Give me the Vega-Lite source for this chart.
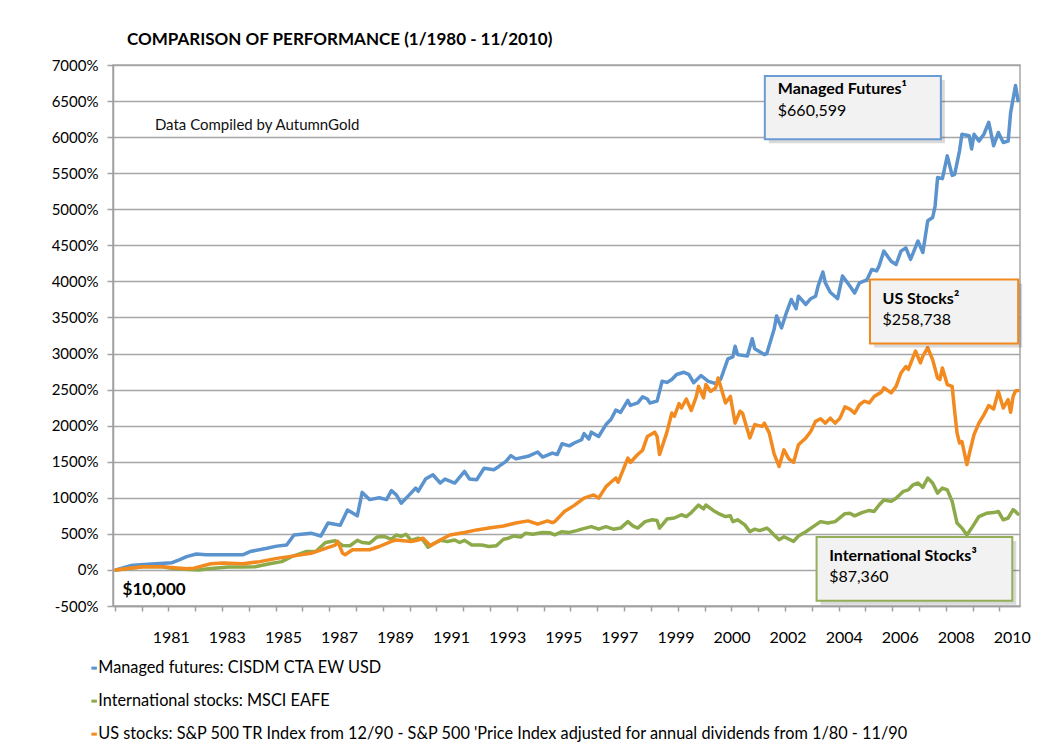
{
  "$schema": "https://vega.github.io/schema/vega-lite/v6.json",
  "autosize": {"type": "none"},
  "width": 907,
  "height": 541,
  "padding": {"left": 113, "top": 65, "right": 19, "bottom": 147},
  "background": "white",
  "title": {"text": "COMPARISON OF PERFORMANCE (1/1980 - 11/2010)", "anchor": "start", "frame": "group", "dx": 14, "offset": 9, "font": "Lato", "fontSize": 17, "fontWeight": "bold", "color": "#000000"},
  "config": {
    "font": "Lato",
    "view": {"stroke": "#a6a6a6", "strokeWidth": 1.5},
    "axis": {"labelFont": "Lato", "labelColor": "#000000", "domainColor": "#a0a0a0", "tickColor": "#a0a0a0", "domainWidth": 1.5, "tickWidth": 1.5}
  },
  "datasets": {
    "mf": [
      {"date": "1980-01", "value": 0}, {"date": "1980-07", "value": 60}, {"date": "1981-02", "value": 80}, {"date": "1981-07", "value": 90},
      {"date": "1981-12", "value": 100}, {"date": "1982-03", "value": 140}, {"date": "1982-06", "value": 185}, {"date": "1982-10", "value": 220},
      {"date": "1983-02", "value": 210}, {"date": "1983-09", "value": 210}, {"date": "1984-05", "value": 210}, {"date": "1984-08", "value": 255},
      {"date": "1985-03", "value": 300}, {"date": "1985-07", "value": 330}, {"date": "1985-11", "value": 345}, {"date": "1986-02", "value": 485},
      {"date": "1986-09", "value": 510}, {"date": "1987-01", "value": 470}, {"date": "1987-04", "value": 650}, {"date": "1987-09", "value": 620},
      {"date": "1987-12", "value": 830}, {"date": "1988-04", "value": 750}, {"date": "1988-06", "value": 1075}, {"date": "1988-09", "value": 975},
      {"date": "1989-01", "value": 1000}, {"date": "1989-04", "value": 975}, {"date": "1989-06", "value": 1100}, {"date": "1989-08", "value": 1040},
      {"date": "1989-10", "value": 925}, {"date": "1990-01", "value": 1030}, {"date": "1990-04", "value": 1135}, {"date": "1990-05", "value": 1090},
      {"date": "1990-08", "value": 1260}, {"date": "1990-11", "value": 1320}, {"date": "1991-02", "value": 1205}, {"date": "1991-04", "value": 1260},
      {"date": "1991-08", "value": 1205}, {"date": "1991-12", "value": 1365}, {"date": "1992-02", "value": 1260}, {"date": "1992-05", "value": 1250},
      {"date": "1992-08", "value": 1410}, {"date": "1992-12", "value": 1390}, {"date": "1993-02", "value": 1435}, {"date": "1993-05", "value": 1505},
      {"date": "1993-07", "value": 1585}, {"date": "1993-09", "value": 1540}, {"date": "1994-02", "value": 1575}, {"date": "1994-06", "value": 1635},
      {"date": "1994-08", "value": 1565}, {"date": "1994-12", "value": 1620}, {"date": "1995-02", "value": 1600}, {"date": "1995-04", "value": 1750},
      {"date": "1995-07", "value": 1720}, {"date": "1995-09", "value": 1760}, {"date": "1995-12", "value": 1805}, {"date": "1996-01", "value": 1890},
      {"date": "1996-03", "value": 1815}, {"date": "1996-04", "value": 1910}, {"date": "1996-07", "value": 1850}, {"date": "1996-10", "value": 2015},
      {"date": "1996-12", "value": 2085}, {"date": "1997-02", "value": 2215}, {"date": "1997-04", "value": 2185}, {"date": "1997-07", "value": 2350},
      {"date": "1997-08", "value": 2280}, {"date": "1997-11", "value": 2315}, {"date": "1998-01", "value": 2400}, {"date": "1998-03", "value": 2370},
      {"date": "1998-04", "value": 2315}, {"date": "1998-07", "value": 2340}, {"date": "1998-09", "value": 2615}, {"date": "1998-11", "value": 2600},
      {"date": "1999-01", "value": 2640}, {"date": "1999-03", "value": 2710}, {"date": "1999-06", "value": 2740}, {"date": "1999-08", "value": 2710},
      {"date": "1999-10", "value": 2595}, {"date": "2000-01", "value": 2695}, {"date": "2000-04", "value": 2615}, {"date": "2000-07", "value": 2585},
      {"date": "2000-09", "value": 2640}, {"date": "2000-12", "value": 2925}, {"date": "2001-02", "value": 2955}, {"date": "2001-03", "value": 3100},
      {"date": "2001-04", "value": 2985}, {"date": "2001-08", "value": 2965}, {"date": "2001-10", "value": 3205}, {"date": "2001-11", "value": 3065},
      {"date": "2002-03", "value": 2985}, {"date": "2002-04", "value": 3000}, {"date": "2002-07", "value": 3335}, {"date": "2002-08", "value": 3520},
      {"date": "2002-10", "value": 3355}, {"date": "2002-12", "value": 3565}, {"date": "2003-02", "value": 3750}, {"date": "2003-04", "value": 3620},
      {"date": "2003-05", "value": 3795}, {"date": "2003-08", "value": 3680}, {"date": "2003-10", "value": 3760}, {"date": "2003-12", "value": 3795},
      {"date": "2004-01", "value": 3935}, {"date": "2004-03", "value": 4130}, {"date": "2004-04", "value": 3980}, {"date": "2004-06", "value": 3850},
      {"date": "2004-09", "value": 3760}, {"date": "2004-11", "value": 4075}, {"date": "2005-02", "value": 3935}, {"date": "2005-04", "value": 3840},
      {"date": "2005-06", "value": 3980}, {"date": "2005-09", "value": 4020}, {"date": "2005-11", "value": 4165}, {"date": "2006-01", "value": 4145},
      {"date": "2006-02", "value": 4215}, {"date": "2006-04", "value": 4420}, {"date": "2006-07", "value": 4280}, {"date": "2006-09", "value": 4235},
      {"date": "2006-11", "value": 4420}, {"date": "2007-01", "value": 4465}, {"date": "2007-03", "value": 4305}, {"date": "2007-06", "value": 4560},
      {"date": "2007-08", "value": 4400}, {"date": "2007-10", "value": 4840}, {"date": "2007-12", "value": 4885}, {"date": "2008-01", "value": 5045},
      {"date": "2008-02", "value": 5440}, {"date": "2008-04", "value": 5425}, {"date": "2008-06", "value": 5740}, {"date": "2008-08", "value": 5470},
      {"date": "2008-09", "value": 5485}, {"date": "2008-11", "value": 5810}, {"date": "2008-12", "value": 6040}, {"date": "2009-03", "value": 6020},
      {"date": "2009-04", "value": 5835}, {"date": "2009-05", "value": 6040}, {"date": "2009-07", "value": 5945}, {"date": "2009-09", "value": 6040},
      {"date": "2009-11", "value": 6205}, {"date": "2010-01", "value": 5880}, {"date": "2010-03", "value": 6065}, {"date": "2010-05", "value": 5925},
      {"date": "2010-07", "value": 5945}, {"date": "2010-08", "value": 6340}, {"date": "2010-10", "value": 6715}, {"date": "2010-11", "value": 6506}
    ],
    "intl": [
      {"date": "1980-01", "value": 0}, {"date": "1980-12", "value": 45}, {"date": "1981-08", "value": 45}, {"date": "1982-01", "value": 15},
      {"date": "1982-07", "value": 5}, {"date": "1982-11", "value": 0}, {"date": "1983-03", "value": 15}, {"date": "1983-11", "value": 40},
      {"date": "1984-05", "value": 40}, {"date": "1984-10", "value": 45}, {"date": "1985-04", "value": 85}, {"date": "1985-09", "value": 115},
      {"date": "1986-01", "value": 185}, {"date": "1986-07", "value": 255}, {"date": "1986-11", "value": 255}, {"date": "1987-03", "value": 380},
      {"date": "1987-07", "value": 405}, {"date": "1987-10", "value": 340}, {"date": "1988-01", "value": 335}, {"date": "1988-04", "value": 410},
      {"date": "1988-06", "value": 380}, {"date": "1988-09", "value": 370}, {"date": "1988-12", "value": 455}, {"date": "1989-03", "value": 465},
      {"date": "1989-06", "value": 425}, {"date": "1989-08", "value": 485}, {"date": "1989-10", "value": 465}, {"date": "1989-12", "value": 495},
      {"date": "1990-02", "value": 410}, {"date": "1990-05", "value": 440}, {"date": "1990-07", "value": 415}, {"date": "1990-09", "value": 315},
      {"date": "1990-11", "value": 360}, {"date": "1991-02", "value": 410}, {"date": "1991-05", "value": 395}, {"date": "1991-08", "value": 415},
      {"date": "1991-10", "value": 380}, {"date": "1991-12", "value": 410}, {"date": "1992-03", "value": 345}, {"date": "1992-07", "value": 345},
      {"date": "1992-10", "value": 325}, {"date": "1993-01", "value": 335}, {"date": "1993-04", "value": 425}, {"date": "1993-06", "value": 440},
      {"date": "1993-08", "value": 470}, {"date": "1993-11", "value": 455}, {"date": "1994-01", "value": 510}, {"date": "1994-04", "value": 495},
      {"date": "1994-08", "value": 520}, {"date": "1994-11", "value": 515}, {"date": "1995-01", "value": 485}, {"date": "1995-04", "value": 530},
      {"date": "1995-07", "value": 520}, {"date": "1995-10", "value": 545}, {"date": "1995-12", "value": 565}, {"date": "1996-04", "value": 600},
      {"date": "1996-07", "value": 565}, {"date": "1996-10", "value": 600}, {"date": "1997-01", "value": 565}, {"date": "1997-04", "value": 580},
      {"date": "1997-07", "value": 670}, {"date": "1997-09", "value": 610}, {"date": "1997-11", "value": 580}, {"date": "1998-02", "value": 670},
      {"date": "1998-05", "value": 695}, {"date": "1998-07", "value": 685}, {"date": "1998-08", "value": 580}, {"date": "1998-11", "value": 705},
      {"date": "1999-02", "value": 720}, {"date": "1999-05", "value": 765}, {"date": "1999-07", "value": 740}, {"date": "1999-09", "value": 795},
      {"date": "1999-12", "value": 900}, {"date": "2000-02", "value": 845}, {"date": "2000-03", "value": 900}, {"date": "2000-06", "value": 825},
      {"date": "2000-08", "value": 785}, {"date": "2000-11", "value": 740}, {"date": "2001-01", "value": 750}, {"date": "2001-02", "value": 670},
      {"date": "2001-04", "value": 695}, {"date": "2001-07", "value": 625}, {"date": "2001-09", "value": 530}, {"date": "2001-11", "value": 565},
      {"date": "2002-01", "value": 545}, {"date": "2002-04", "value": 580}, {"date": "2002-05", "value": 555}, {"date": "2002-07", "value": 485},
      {"date": "2002-09", "value": 420}, {"date": "2002-11", "value": 460}, {"date": "2003-03", "value": 395}, {"date": "2003-05", "value": 470},
      {"date": "2003-08", "value": 530}, {"date": "2003-11", "value": 600}, {"date": "2004-02", "value": 670}, {"date": "2004-05", "value": 650},
      {"date": "2004-08", "value": 670}, {"date": "2004-12", "value": 780}, {"date": "2005-02", "value": 785}, {"date": "2005-04", "value": 750},
      {"date": "2005-07", "value": 795}, {"date": "2005-10", "value": 825}, {"date": "2005-12", "value": 810}, {"date": "2006-02", "value": 900},
      {"date": "2006-04", "value": 970}, {"date": "2006-07", "value": 950}, {"date": "2006-09", "value": 995}, {"date": "2006-12", "value": 1090},
      {"date": "2007-02", "value": 1110}, {"date": "2007-04", "value": 1180}, {"date": "2007-06", "value": 1205}, {"date": "2007-08", "value": 1145},
      {"date": "2007-10", "value": 1275}, {"date": "2007-12", "value": 1205}, {"date": "2008-02", "value": 1065}, {"date": "2008-04", "value": 1135},
      {"date": "2008-06", "value": 1110}, {"date": "2008-08", "value": 950}, {"date": "2008-10", "value": 650}, {"date": "2008-12", "value": 580},
      {"date": "2009-02", "value": 485}, {"date": "2009-04", "value": 580}, {"date": "2009-07", "value": 740}, {"date": "2009-10", "value": 785},
      {"date": "2010-01", "value": 795}, {"date": "2010-03", "value": 810}, {"date": "2010-05", "value": 695}, {"date": "2010-07", "value": 720},
      {"date": "2010-09", "value": 835}, {"date": "2010-10", "value": 810}, {"date": "2010-11", "value": 774}
    ],
    "us": [
      {"date": "1980-01", "value": 0}, {"date": "1980-12", "value": 45}, {"date": "1981-08", "value": 45}, {"date": "1982-06", "value": 15},
      {"date": "1982-09", "value": 25}, {"date": "1983-04", "value": 85}, {"date": "1983-09", "value": 95}, {"date": "1984-05", "value": 85},
      {"date": "1984-12", "value": 115}, {"date": "1985-07", "value": 160}, {"date": "1986-02", "value": 195}, {"date": "1986-09", "value": 230},
      {"date": "1987-03", "value": 300}, {"date": "1987-07", "value": 345}, {"date": "1987-08", "value": 395}, {"date": "1987-10", "value": 230},
      {"date": "1987-11", "value": 210}, {"date": "1988-02", "value": 280}, {"date": "1988-09", "value": 280}, {"date": "1989-01", "value": 325},
      {"date": "1989-06", "value": 395}, {"date": "1989-08", "value": 415}, {"date": "1990-02", "value": 395}, {"date": "1990-05", "value": 415},
      {"date": "1990-07", "value": 440}, {"date": "1990-10", "value": 335}, {"date": "1991-02", "value": 415}, {"date": "1991-06", "value": 485},
      {"date": "1991-12", "value": 520}, {"date": "1992-05", "value": 555}, {"date": "1992-10", "value": 580}, {"date": "1993-04", "value": 610},
      {"date": "1993-09", "value": 650}, {"date": "1994-02", "value": 680}, {"date": "1994-06", "value": 635}, {"date": "1994-10", "value": 680},
      {"date": "1994-12", "value": 655}, {"date": "1995-01", "value": 670}, {"date": "1995-05", "value": 810}, {"date": "1995-09", "value": 895},
      {"date": "1996-01", "value": 995}, {"date": "1996-05", "value": 1040}, {"date": "1996-07", "value": 995}, {"date": "1996-10", "value": 1155},
      {"date": "1996-12", "value": 1215}, {"date": "1997-02", "value": 1275}, {"date": "1997-03", "value": 1215}, {"date": "1997-07", "value": 1550},
      {"date": "1997-08", "value": 1490}, {"date": "1997-11", "value": 1600}, {"date": "1998-01", "value": 1660}, {"date": "1998-03", "value": 1850},
      {"date": "1998-06", "value": 1910}, {"date": "1998-07", "value": 1850}, {"date": "1998-08", "value": 1600}, {"date": "1998-11", "value": 1910},
      {"date": "1999-01", "value": 2175}, {"date": "1999-02", "value": 2130}, {"date": "1999-04", "value": 2305}, {"date": "1999-05", "value": 2245},
      {"date": "1999-07", "value": 2370}, {"date": "1999-09", "value": 2210}, {"date": "1999-11", "value": 2400}, {"date": "1999-12", "value": 2545},
      {"date": "2000-02", "value": 2385}, {"date": "2000-03", "value": 2570}, {"date": "2000-05", "value": 2475}, {"date": "2000-07", "value": 2525},
      {"date": "2000-08", "value": 2660}, {"date": "2000-09", "value": 2545}, {"date": "2000-11", "value": 2315}, {"date": "2001-01", "value": 2405},
      {"date": "2001-03", "value": 2035}, {"date": "2001-05", "value": 2200}, {"date": "2001-06", "value": 2175}, {"date": "2001-09", "value": 1830},
      {"date": "2001-11", "value": 2015}, {"date": "2002-02", "value": 1990}, {"date": "2002-03", "value": 2035}, {"date": "2002-05", "value": 1900},
      {"date": "2002-07", "value": 1610}, {"date": "2002-09", "value": 1435}, {"date": "2002-11", "value": 1665}, {"date": "2003-01", "value": 1540},
      {"date": "2003-03", "value": 1490}, {"date": "2003-05", "value": 1735}, {"date": "2003-08", "value": 1830}, {"date": "2003-10", "value": 1920},
      {"date": "2003-12", "value": 2060}, {"date": "2004-02", "value": 2095}, {"date": "2004-04", "value": 2035}, {"date": "2004-06", "value": 2105},
      {"date": "2004-08", "value": 2035}, {"date": "2004-10", "value": 2105}, {"date": "2004-12", "value": 2260}, {"date": "2005-02", "value": 2230},
      {"date": "2005-04", "value": 2175}, {"date": "2005-06", "value": 2290}, {"date": "2005-08", "value": 2340}, {"date": "2005-10", "value": 2315},
      {"date": "2005-12", "value": 2405}, {"date": "2006-03", "value": 2465}, {"date": "2006-04", "value": 2525}, {"date": "2006-07", "value": 2455},
      {"date": "2006-09", "value": 2545}, {"date": "2006-11", "value": 2730}, {"date": "2007-01", "value": 2820}, {"date": "2007-02", "value": 2780},
      {"date": "2007-05", "value": 3035}, {"date": "2007-07", "value": 2870}, {"date": "2007-08", "value": 2965}, {"date": "2007-10", "value": 3080},
      {"date": "2007-12", "value": 2915}, {"date": "2008-02", "value": 2660}, {"date": "2008-03", "value": 2640}, {"date": "2008-04", "value": 2800},
      {"date": "2008-06", "value": 2570}, {"date": "2008-08", "value": 2545}, {"date": "2008-09", "value": 2200}, {"date": "2008-10", "value": 1900},
      {"date": "2008-11", "value": 1760}, {"date": "2008-12", "value": 1780}, {"date": "2009-01", "value": 1620}, {"date": "2009-02", "value": 1460},
      {"date": "2009-03", "value": 1600}, {"date": "2009-04", "value": 1740}, {"date": "2009-05", "value": 1875}, {"date": "2009-07", "value": 2035},
      {"date": "2009-09", "value": 2150}, {"date": "2009-11", "value": 2280}, {"date": "2010-01", "value": 2230}, {"date": "2010-03", "value": 2475},
      {"date": "2010-05", "value": 2245}, {"date": "2010-07", "value": 2360}, {"date": "2010-08", "value": 2185}, {"date": "2010-09", "value": 2405},
      {"date": "2010-10", "value": 2480}, {"date": "2010-11", "value": 2487}
    ],
    "boxes": [
      {"series": "Managed futures", "date": "2002-03-07", "date2": "2008-03-13", "value": 6847, "value2": 5972},
      {"series": "US stocks", "date": "2005-10-10", "date2": "2010-11-03", "value": 4028, "value2": 3139},
      {"series": "International stocks", "date": "2003-12-13", "date2": "2010-08-22", "value": 458, "value2": -426}
    ],
    "labels": [
      {"date": "2002-08-16", "value": 6597, "text": "Managed Futures¹", "role": "heading"},
      {"date": "2002-08-16", "value": 6292, "text": "$660,599", "role": "amount"},
      {"date": "2006-03-16", "value": 3681, "text": "US Stocks²", "role": "heading"},
      {"date": "2006-03-16", "value": 3393, "text": "$258,738", "role": "amount"},
      {"date": "2004-05-18", "value": 129, "text": "International Stocks³", "role": "heading"},
      {"date": "2004-05-18", "value": -163, "text": "$87,360", "role": "amount"},
      {"date": "1981-05-01", "value": 6097, "text": "Data Compiled by AutumnGold", "role": "note"},
      {"date": "1980-03-23", "value": -347, "text": "$10,000", "role": "base"}
    ]
  },
  "encoding": {
    "x": {
      "field": "date", "type": "temporal", "title": null,
      "scale": {"domain": [{"year": 1979, "month": 11, "date": 25, "utc": true}, {"year": 2010, "month": 11, "date": 26, "utc": true}]},
      "axis": {
        "grid": false, "labelFontSize": 16, "tickSize": 5, "labelPadding": 18, "labelOverlap": false, "labelFlush": false, "labelBound": false,
        "labelExpr": "utcdate(datum.value) == 16 ? utcFormat(datum.value - 3888000000, '%Y') : ''",
        "tickOpacity": {"condition": {"test": "utcdate(datum.value) == 16", "value": 0}, "value": 1},
        "values": [
          {"year": 1979, "month": 12, "date": 15, "utc": true}, {"year": 1980, "month": 11, "date": 15, "utc": true},
          {"year": 1981, "month": 10, "date": 15, "utc": true}, {"year": 1982, "month": 9, "date": 15, "utc": true},
          {"year": 1983, "month": 8, "date": 15, "utc": true}, {"year": 1984, "month": 7, "date": 15, "utc": true},
          {"year": 1985, "month": 6, "date": 15, "utc": true}, {"year": 1986, "month": 5, "date": 15, "utc": true},
          {"year": 1987, "month": 4, "date": 15, "utc": true}, {"year": 1988, "month": 3, "date": 15, "utc": true},
          {"year": 1989, "month": 2, "date": 15, "utc": true}, {"year": 1990, "month": 1, "date": 15, "utc": true},
          {"year": 1990, "month": 12, "date": 15, "utc": true}, {"year": 1991, "month": 11, "date": 15, "utc": true},
          {"year": 1992, "month": 10, "date": 15, "utc": true}, {"year": 1993, "month": 9, "date": 15, "utc": true},
          {"year": 1994, "month": 8, "date": 15, "utc": true}, {"year": 1995, "month": 7, "date": 15, "utc": true},
          {"year": 1996, "month": 6, "date": 15, "utc": true}, {"year": 1997, "month": 5, "date": 15, "utc": true},
          {"year": 1998, "month": 4, "date": 15, "utc": true}, {"year": 1999, "month": 3, "date": 15, "utc": true},
          {"year": 2000, "month": 2, "date": 15, "utc": true}, {"year": 2001, "month": 1, "date": 15, "utc": true},
          {"year": 2001, "month": 12, "date": 15, "utc": true}, {"year": 2002, "month": 11, "date": 15, "utc": true},
          {"year": 2003, "month": 10, "date": 15, "utc": true}, {"year": 2004, "month": 9, "date": 15, "utc": true},
          {"year": 2005, "month": 8, "date": 15, "utc": true}, {"year": 2006, "month": 7, "date": 15, "utc": true},
          {"year": 2007, "month": 6, "date": 15, "utc": true}, {"year": 2008, "month": 5, "date": 15, "utc": true},
          {"year": 2009, "month": 4, "date": 15, "utc": true}, {"year": 2010, "month": 3, "date": 15, "utc": true},
          {"year": 1981, "month": 11, "date": 16, "utc": true}, {"year": 1983, "month": 10, "date": 16, "utc": true},
          {"year": 1985, "month": 9, "date": 16, "utc": true}, {"year": 1987, "month": 8, "date": 16, "utc": true},
          {"year": 1989, "month": 7, "date": 16, "utc": true}, {"year": 1991, "month": 6, "date": 16, "utc": true},
          {"year": 1993, "month": 5, "date": 16, "utc": true}, {"year": 1995, "month": 4, "date": 16, "utc": true},
          {"year": 1997, "month": 3, "date": 16, "utc": true}, {"year": 1999, "month": 2, "date": 16, "utc": true},
          {"year": 2001, "month": 1, "date": 16, "utc": true}, {"year": 2002, "month": 12, "date": 16, "utc": true},
          {"year": 2004, "month": 11, "date": 16, "utc": true}, {"year": 2006, "month": 10, "date": 16, "utc": true},
          {"year": 2008, "month": 9, "date": 16, "utc": true}, {"year": 2010, "month": 8, "date": 16, "utc": true}
        ]
      }
    },
    "y": {
      "field": "value", "type": "quantitative", "title": null,
      "scale": {"domain": [-500, 7000], "nice": false, "zero": false},
      "axis": {
        "values": [-500, 0, 500, 1000, 1500, 2000, 2500, 3000, 3500, 4000, 4500, 5000, 5500, 6000, 6500, 7000],
        "labelExpr": "datum.value + '%'", "labelFontSize": 15, "tickSize": 6, "labelPadding": 9,
        "grid": true, "gridColor": "#a6a6a6", "gridWidth": 1.5
      }
    }
  },
  "layer": [
    {
      "data": {"name": "mf"},
      "mark": {"type": "line", "strokeWidth": 3.5, "strokeJoin": "round", "strokeCap": "round"},
      "encoding": {
        "color": {
          "datum": "Managed futures: CISDM CTA EW USD", "type": "nominal",
          "scale": {
            "domain": ["Managed futures: CISDM CTA EW USD", "International stocks: MSCI EAFE", "US stocks: S&P 500 TR Index from 12/90 - S&P 500 'Price Index adjusted for annual dividends from 1/80 - 11/90"],
            "range": ["#5B93CE", "#8DAA4A", "#F28A1F"]
          },
          "legend": {
            "title": null, "orient": "none", "legendX": -27, "legendY": 595, "direction": "vertical", "padding": 0,
            "symbolType": "stroke", "symbolSize": 30, "symbolStrokeWidth": 3, "labelFont": "Lato", "labelFontSize": 16.3,
            "labelColor": "#000000", "labelOffset": -4, "labelLimit": 0, "rowPadding": 16
          }
        }
      }
    },
    {
      "data": {"name": "intl"},
      "mark": {"type": "line", "strokeWidth": 3.5, "strokeJoin": "round", "strokeCap": "round"},
      "encoding": {"color": {"datum": "International stocks: MSCI EAFE", "type": "nominal"}}
    },
    {
      "data": {"name": "us"},
      "mark": {"type": "line", "strokeWidth": 3.5, "strokeJoin": "round", "strokeCap": "round"},
      "encoding": {"color": {"datum": "US stocks: S&P 500 TR Index from 12/90 - S&P 500 'Price Index adjusted for annual dividends from 1/80 - 11/90", "type": "nominal"}}
    },
    {
      "data": {"name": "boxes"},
      "mark": {"type": "rect", "fill": "#000000", "opacity": 0.15, "xOffset": 4, "x2Offset": 4, "yOffset": 4, "y2Offset": 4},
      "encoding": {"x2": {"field": "date2"}, "y2": {"field": "value2"}}
    },
    {
      "data": {"name": "boxes"},
      "mark": {"type": "rect", "fill": "#f2f2f2", "strokeWidth": 2},
      "encoding": {
        "x2": {"field": "date2"}, "y2": {"field": "value2"},
        "stroke": {"field": "series", "type": "nominal", "legend": null,
          "scale": {"domain": ["Managed futures", "International stocks", "US stocks"], "range": ["#6A9BD3", "#93AF59", "#F08A1C"]}}
      }
    },
    {
      "data": {"name": "labels"},
      "transform": [{"filter": "datum.role == 'heading'"}],
      "mark": {"type": "text", "align": "left", "baseline": "alphabetic", "font": "Lato", "fontSize": 16, "fontWeight": "bold", "color": "#000000"},
      "encoding": {"text": {"field": "text"}}
    },
    {
      "data": {"name": "labels"},
      "transform": [{"filter": "datum.role == 'amount'"}],
      "mark": {"type": "text", "align": "left", "baseline": "alphabetic", "font": "Lato", "fontSize": 16, "color": "#000000"},
      "encoding": {"text": {"field": "text"}}
    },
    {
      "data": {"name": "labels"},
      "transform": [{"filter": "datum.role == 'note'"}],
      "mark": {"type": "text", "align": "left", "baseline": "alphabetic", "font": "Lato", "fontSize": 15, "color": "#111111"},
      "encoding": {"text": {"field": "text"}}
    },
    {
      "data": {"name": "labels"},
      "transform": [{"filter": "datum.role == 'base'"}],
      "mark": {"type": "text", "align": "left", "baseline": "alphabetic", "font": "Lato", "fontSize": 17, "fontWeight": "bold", "color": "#000000"},
      "encoding": {"text": {"field": "text"}}
    }
  ]
}
